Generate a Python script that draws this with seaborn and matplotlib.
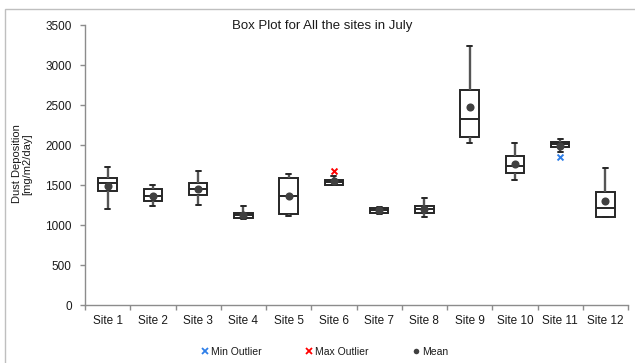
import numpy as np
import pandas as pd
import matplotlib
matplotlib.use("Agg")
import matplotlib.pyplot as plt
from matplotlib.lines import Line2D
from matplotlib.patches import Rectangle
import seaborn as sns

sites = ["Site 1", "Site 2", "Site 3", "Site 4", "Site 5", "Site 6",
         "Site 7", "Site 8", "Site 9", "Site 10", "Site 11", "Site 12"]
mins    = [1204, 1242, 1250, 1080, 1108, 1500, 1133, 1096, 2021, 1563, 1915, 1096]
q1s     = [1429, 1296, 1371, 1085, 1137, 1504, 1154, 1154, 2100, 1646, 1979, 1100]
medians = [1521, 1367, 1450, 1121, 1358, 1533, 1183, 1196, 2321, 1742, 2008, 1208]
q3s     = [1584, 1446, 1529, 1150, 1583, 1563, 1208, 1238, 2688, 1863, 2038, 1408]
maxs    = [1729, 1496, 1679, 1242, 1633, 1617, 1225, 1342, 3242, 2029, 2071, 1708]
means   = [1488, 1363, 1450, 1121, 1358, 1546, 1183, 1204, 2471, 1767, 1992, 1304]
max_outlier_sites = ["Site 6"]
max_outlier_vals = [1675]
min_outlier_sites = ["Site 11"]
min_outlier_vals = [1854]

title = "Box Plot for All the sites in July"
ylabel = "Dust Deposition\n[mg/m2/day]"
yticks = [0, 500, 1000, 1500, 2000, 2500, 3000, 3500]

sns.set_style("white")
plt.rcParams["font.family"] = ["Liberation Sans", "DejaVu Sans"]

rows = []
for s, a, b, c, d, e in zip(sites, mins, q1s, medians, q3s, maxs):
    for v in (a, b, c, d, e):
        rows.append({"site": s, "value": v})
df = pd.DataFrame(rows)

W, H = 635, 363
fig = plt.figure(figsize=(W / 100, H / 100), dpi=100)
fig.patch.set_facecolor("white")
ax = fig.add_axes([85 / W, 1 - 305 / H, (628 - 85) / W, (305 - 25) / H])

edge = "#262626"
sns.boxplot(data=df, x="site", y="value", order=sites, whis=(0, 100),
            width=0.41, ax=ax, color="white", linecolor=edge, linewidth=1.4,
            fliersize=0,
            boxprops=dict(facecolor="white", edgecolor=edge),
            whiskerprops=dict(color="#555555", linewidth=1.7),
            capprops=dict(color=edge, linewidth=1.4),
            medianprops=dict(color=edge, linewidth=1.4),
            capwidths=0.11)

pos = {s: i for i, s in enumerate(sites)}
sns.scatterplot(x=[pos[s] for s in sites], y=means, ax=ax, marker="o",
                color="#404040", s=34, linewidth=0, zorder=4)
sns.scatterplot(x=[pos[s] for s in max_outlier_sites], y=max_outlier_vals,
                ax=ax, marker="x", color="#FF0000", s=18, linewidth=1.4, zorder=5)
sns.scatterplot(x=[pos[s] for s in min_outlier_sites], y=min_outlier_vals,
                ax=ax, marker="x", color="#2F7FE8", s=18, linewidth=1.4, zorder=5)

ax.set_xlim(-0.5, len(sites) - 0.5)
ax.set_ylim(0, 3500)
ax.set_yticks(yticks)
ax.set_xticks(range(len(sites)))
ax.set_xticklabels(sites)
ax.set_xticks(np.arange(-0.5, len(sites)), minor=True)
ax.set_xlabel("")
ax.set_ylabel("")
for sp in ["top", "right"]:
    ax.spines[sp].set_visible(False)
for sp in ["left", "bottom"]:
    ax.spines[sp].set_color("#8C8C8C")
    ax.spines[sp].set_linewidth(1.0)
ax.tick_params(axis="y", which="major", length=3.5, width=1.0, color="#8C8C8C",
               direction="out", left=True, pad=6, labelsize=8.5, labelcolor="#1a1a1a")
ax.tick_params(axis="x", which="major", length=0, pad=7, labelsize=8.5, labelcolor="#1a1a1a")
ax.tick_params(axis="x", which="minor", length=3.5, width=1.0, color="#8C8C8C",
               direction="out", bottom=True)

fig.text(322 / W, 1 - 29 / H, title, ha="center", va="baseline", fontsize=9.5,
         color="#1a1a1a")
fig.text(22 / W, 1 - 164 / H, ylabel, ha="center", va="center", rotation=90,
         fontsize=8, color="#1a1a1a", multialignment="center", linespacing=1.1)

handles = [
    Line2D([], [], linestyle="none", marker="x", color="#2F7FE8", markersize=4, mew=1.3),
    Line2D([], [], linestyle="none", marker="x", color="#FF0000", markersize=4, mew=1.3),
    Line2D([], [], linestyle="none", marker="o", color="#404040", markersize=4, mew=0),
]
fig.legend(handles, ["Min Outlier", "Max Outlier", "Mean"], loc="center",
           bbox_to_anchor=(325 / W, 1 - 352 / H), ncol=3, frameon=False,
           fontsize=7.5, handlelength=0.6, handletextpad=0.3, columnspacing=4.2,
           labelcolor="#1a1a1a")

fig.add_artist(Rectangle((5 / W, -0.05), 1.2, 1 - 9 / H + 0.05,
                         transform=fig.transFigure, fill=False,
                         edgecolor="#BFBFBF", linewidth=1.0, clip_on=False))

fig.savefig("out.png", dpi=100)
